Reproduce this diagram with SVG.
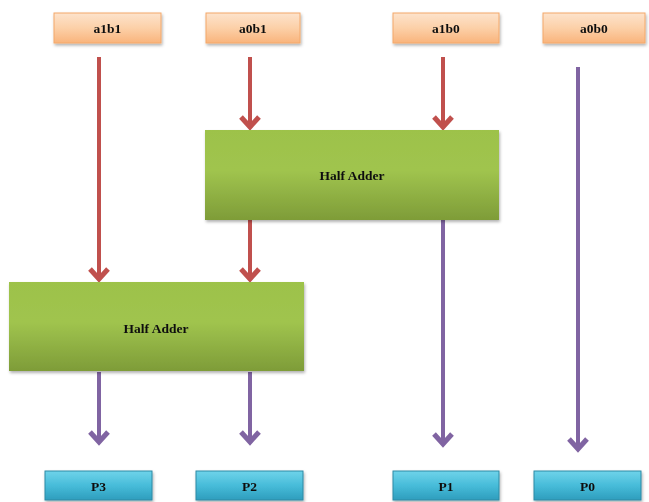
<svg xmlns="http://www.w3.org/2000/svg" width="649" height="502" viewBox="0 0 649 502">
  <style>
    .lbl { font-family: "Liberation Serif", "Times New Roman", serif; font-weight: bold; font-size: 13.5px; fill: #111; text-anchor: middle; dominant-baseline: central; }
    .in { fill: url(#gOrange); stroke: #f4a86a; stroke-width: 1; }
    .out { fill: url(#gBlue); stroke: #2d8aa5; stroke-width: 1; }
    .blk { fill: url(#gGreen); }
    .red { stroke: #c0504d; stroke-width: 4; fill: none; marker-end: url(#headRed); }
    .pur { stroke: #8064a2; stroke-width: 4; fill: none; marker-end: url(#headPur); }
  </style>
  <defs>
    <linearGradient id="gOrange" x1="0" y1="0" x2="0" y2="1">
      <stop offset="0" stop-color="#fde3cc"/>
      <stop offset="0.5" stop-color="#fcd0a8"/>
      <stop offset="1" stop-color="#f9b47c"/>
    </linearGradient>
    <linearGradient id="gGreen" x1="0" y1="0" x2="0" y2="1">
      <stop offset="0" stop-color="#9dc24a"/>
      <stop offset="0.45" stop-color="#a0c44e"/>
      <stop offset="1" stop-color="#7e9c38"/>
    </linearGradient>
    <linearGradient id="gBlue" x1="0" y1="0" x2="0" y2="1">
      <stop offset="0" stop-color="#6fd3ea"/>
      <stop offset="0.5" stop-color="#47bcd9"/>
      <stop offset="1" stop-color="#2e9dbd"/>
    </linearGradient>
    <filter id="shadow" x="-10%" y="-20%" width="120%" height="150%">
      <feDropShadow dx="1" dy="2" stdDeviation="1.5" flood-color="#000" flood-opacity="0.3"/>
    </filter>
    <!-- open chevron heads, drawn pointing along +x so orient="auto" turns them down the line -->
    <marker id="headRed" markerUnits="userSpaceOnUse" markerWidth="22" markerHeight="24" refX="18" refY="11" orient="auto" viewBox="0 0 22 22" overflow="visible">
      <path d="M8,2 L18,11 L8,20" fill="none" stroke="#c0504d" stroke-width="5" stroke-linejoin="miter"/>
    </marker>
    <marker id="headPur" markerUnits="userSpaceOnUse" markerWidth="22" markerHeight="24" refX="18" refY="11" orient="auto" viewBox="0 0 22 22" overflow="visible">
      <path d="M8,2 L18,11 L8,20" fill="none" stroke="#8064a2" stroke-width="5" stroke-linejoin="miter"/>
    </marker>
  </defs>

  <rect width="649" height="502" fill="#ffffff"/>

  <!-- connectors -->
  <g id="connectors">
    <path class="red" d="M99,57 V279"/>
    <path class="red" d="M250,57 V127"/>
    <path class="red" d="M443,57 V127"/>
    <path class="red" d="M250,220 V279"/>
    <path class="pur" d="M578,67 V449"/>
    <path class="pur" d="M443,220 V444"/>
    <path class="pur" d="M99,372 V442"/>
    <path class="pur" d="M250,372 V442"/>
  </g>

  <!-- inputs -->
  <g id="in_a1b1" filter="url(#shadow)">
    <rect class="in" x="54" y="13" width="107" height="30"/>
    <text class="lbl" x="107.5" y="28">a1b1</text>
  </g>
  <g id="in_a0b1" filter="url(#shadow)">
    <rect class="in" x="206" y="13" width="94" height="30"/>
    <text class="lbl" x="253" y="28">a0b1</text>
  </g>
  <g id="in_a1b0" filter="url(#shadow)">
    <rect class="in" x="393" y="13" width="106" height="30"/>
    <text class="lbl" x="446" y="28">a1b0</text>
  </g>
  <g id="in_a0b0" filter="url(#shadow)">
    <rect class="in" x="543" y="13" width="102" height="30"/>
    <text class="lbl" x="594" y="28">a0b0</text>
  </g>

  <!-- half adders -->
  <g id="ha1" filter="url(#shadow)">
    <rect class="blk" x="205" y="130" width="294" height="90"/>
    <text class="lbl" x="352" y="175">Half Adder</text>
  </g>
  <g id="ha2" filter="url(#shadow)">
    <rect class="blk" x="9" y="282" width="295" height="89"/>
    <text class="lbl" x="156" y="328">Half Adder</text>
  </g>

  <!-- outputs -->
  <g id="out_P3" filter="url(#shadow)">
    <rect class="out" x="45" y="471" width="107" height="29"/>
    <text class="lbl" x="98.5" y="486">P3</text>
  </g>
  <g id="out_P2" filter="url(#shadow)">
    <rect class="out" x="196" y="471" width="107" height="29"/>
    <text class="lbl" x="249.5" y="486">P2</text>
  </g>
  <g id="out_P1" filter="url(#shadow)">
    <rect class="out" x="393" y="471" width="106" height="29"/>
    <text class="lbl" x="446" y="486">P1</text>
  </g>
  <g id="out_P0" filter="url(#shadow)">
    <rect class="out" x="534" y="471" width="107" height="29"/>
    <text class="lbl" x="587.5" y="486">P0</text>
  </g>
</svg>
